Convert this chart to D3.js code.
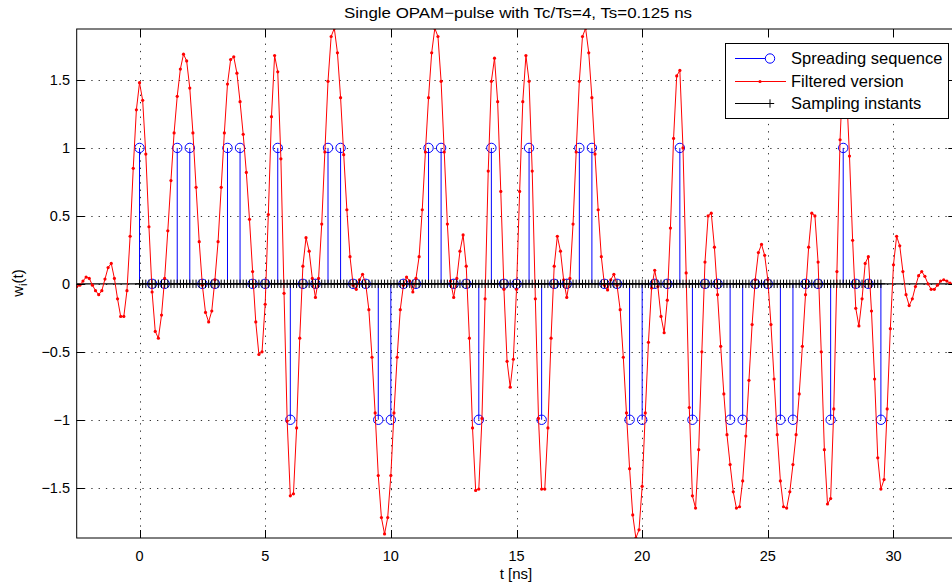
<!DOCTYPE html>
<html>
<head>
<meta charset="utf-8">
<script src="https://cdn.jsdelivr.net/npm/d3@7"></script>
<style>
  body { margin: 0; background: #fff; }
  text { font-family: "Liberation Sans", Arial, sans-serif; fill: #000; }
</style>
</head>
<body>
<script>
// chip / sample spacing (ns)
const Ts = 0.125;
const Tc = 0.5;

// spreading sequence, one value per chip starting at t = 0
const chips = [
  1, 0, 0, 1, 1, 0, 0, 1, 1, 0, 0, 1, -1, 0, 0, 1, 1, 0, 0, -1,
  -1, 0, 0, 1, 1, 0, 0, -1, 1, 0, 0, 1, -1, 0, 0, 1, 1, 0, 0, -1,
  -1, 0, 0, 1, -1, 0, 0, -1, -1, 0, 0, -1, -1, 0, 0, -1, 1, 0, 0, -1
];

// filtered version, one value per Ts starting at t = -2.5
const filtered = [
  -0.02, -0.01, 0.02, 0.05, 0.04, -0.01, -0.05, -0.08,
  -0.05, 0.035, 0.12, 0.15, 0.04, -0.11, -0.24, -0.24,
  -0.05, 0.35, 0.85, 1.28, 1.48, 1.35, 0.955, 0.42,
  -0.06, -0.35, -0.40, -0.23, 0.04, 0.39, 0.76, 1.11,
  1.38, 1.58, 1.69, 1.64, 1.44, 1.11, 0.71, 0.31,
  -0.01, -0.21, -0.28, -0.20, 0.03, 0.31, 0.71, 1.11,
  1.47, 1.65, 1.67, 1.55, 1.34, 1.10, 0.82, 0.475,
  0.09, -0.28, -0.52, -0.50, -0.15, 0.51, 1.23, 1.68,
  1.56, 0.92, -0.07, -1.01, -1.56, -1.545, -1.06, -0.40,
  0.13, 0.34, 0.24, 0.04, -0.10, 0.04, 0.44, 0.97,
  1.49, 1.82, 1.88, 1.70, 1.37, 0.95, 0.545, 0.20,
  -0.01, -0.04, 0.03, 0.07, 0.0, -0.19, -0.54, -0.95,
  -1.41, -1.72, -1.84, -1.72, -1.41, -0.95, -0.54, -0.19,
  -0.01, 0.05, 0.02, -0.06, 0.04, 0.20, 0.545, 0.97,
  1.37, 1.70, 1.88, 1.82, 1.49, 0.97, 0.44, 0.02,
  -0.10, 0.04, 0.24, 0.36, 0.13, -0.40, -1.06, -1.52,
  -1.51, -0.99, -0.11, 0.83, 1.49, 1.66, 1.34, 0.68,
  -0.04, -0.57, -0.76, -0.555, -0.04, 0.68, 1.34, 1.68,
  1.49, 0.83, -0.11, -0.99, -1.51, -1.51, -1.06, -0.40,
  0.13, 0.35, 0.24, 0.03, -0.10, 0.04, 0.44, 0.97,
  1.49, 1.82, 1.88, 1.70, 1.37, 0.955, 0.545, 0.20,
  -0.01, -0.045, 0.03, 0.07, -0.01, -0.19, -0.54, -0.95,
  -1.36, -1.70, -1.87, -1.81, -1.49, -0.95, -0.43, -0.03,
  0.10, -0.02, -0.24, -0.36, -0.12, 0.41, 1.07, 1.53,
  1.57, 1.0, 0.08, -0.91, -1.56, -1.65, -1.22, -0.50,
  0.16, 0.50, 0.52, 0.27, -0.08, -0.46, -0.81, -1.11,
  -1.33, -1.53, -1.65, -1.64, -1.45, -1.12, -0.71, -0.30,
  0.03, 0.23, 0.29, 0.21, 0.03, -0.30, -0.70, -1.11,
  -1.45, -1.64, -1.65, -1.53, -1.33, -1.11, -0.81, -0.46,
  -0.08, 0.27, 0.52, 0.50, 0.16, -0.50, -1.22, -1.62,
  -1.58, -0.92, 0.09, 1.06, 1.6, 1.45, 0.94, 0.32,
  -0.18, -0.31, -0.11, 0.15, 0.20, -0.2, -0.70, -1.28,
  -1.51, -1.44, -0.92, -0.33, 0.14, 0.35, 0.28, 0.09,
  -0.08, -0.16, -0.11, -0.02, 0.06, 0.09, 0.055, 0.0,
  -0.04, -0.04, -0.01, 0.02, 0.03, 0.02, 0.005
];
const filteredStart = -2.5;

// sampling instants sit on the zero line from 0 to 29.5 ns
const samplingLevel = 0;
const samplingEnd = 29.5;

const xTicks = [0, 5, 10, 15, 20, 25, 30];
const yTicks = [-1.5, -1, -0.5, 0, 0.5, 1, 1.5];
const legendLabels = ["Spreading sequence", "Filtered version", "Sampling instants"];

const chipData = chips.map((v, i) => ({ t: i * Tc, v: v }));
const filtData = filtered.map((v, i) => ({ t: filteredStart + i * Ts, v: v }));
const sampData = d3.range(0, samplingEnd + Ts / 2, Ts).map((t) => ({ t: t, v: samplingLevel }));

const W = 952, H = 587;
const pLeft = 76.7, pRight = 956.3, pTop = 29, pBottom = 538;

const svg = d3
  .select("body")
  .append("svg")
  .attr("width", W)
  .attr("height", H);

const x = d3.scaleLinear().domain([-2.5, 32.5]).range([pLeft, pRight]);
const y = d3.scaleLinear().domain([-1.87, 1.875]).range([pBottom, pTop]);

svg.append("defs").append("clipPath").attr("id", "plot")
  .append("rect")
  .attr("x", pLeft).attr("y", pTop)
  .attr("width", pRight - pLeft).attr("height", pBottom - pTop);

// dotted grid
const grid = svg.append("g").attr("stroke", "#333").attr("stroke-width", 1)
  .attr("stroke-dasharray", "1.3,6");
grid.selectAll("line.gx").data(xTicks).enter().append("line")
  .attr("class", "gx")
  .attr("x1", (d) => Math.round(x(d)) + 0.5).attr("x2", (d) => Math.round(x(d)) + 0.5)
  .attr("y1", pTop).attr("y2", pBottom);
grid.selectAll("line.gy").data(yTicks).enter().append("line")
  .attr("class", "gy")
  .attr("y1", (d) => Math.round(y(d)) + 0.5).attr("y2", (d) => Math.round(y(d)) + 0.5)
  .attr("x1", pLeft).attr("x2", pRight);

const plot = svg.append("g").attr("clip-path", "url(#plot)");

// stem baseline
plot.append("line")
  .attr("x1", pLeft).attr("x2", pRight)
  .attr("y1", y(0)).attr("y2", y(0))
  .attr("stroke", "#000").attr("stroke-width", 1.2);

// spreading sequence (blue stems)
plot.selectAll("line.chip").data(chipData).enter().append("line")
  .attr("class", "chip")
  .attr("x1", (d) => x(d.t)).attr("x2", (d) => x(d.t))
  .attr("y1", y(0)).attr("y2", (d) => y(d.v))
  .attr("stroke", "#0000ff").attr("stroke-width", 1);
plot.selectAll("circle.chip").data(chipData).enter().append("circle")
  .attr("class", "chip")
  .attr("cx", (d) => x(d.t)).attr("cy", (d) => y(d.v))
  .attr("r", 4.7)
  .attr("fill", "none").attr("stroke", "#0000ff").attr("stroke-width", 1);

// filtered version (red line with dots)
plot.append("path")
  .datum(filtData)
  .attr("d", d3.line().x((d) => x(d.t)).y((d) => y(d.v)))
  .attr("fill", "none").attr("stroke", "#ff0000").attr("stroke-width", 1);
plot.selectAll("circle.filt").data(filtData).enter().append("circle")
  .attr("class", "filt")
  .attr("cx", (d) => x(d.t)).attr("cy", (d) => y(d.v))
  .attr("r", 1.6).attr("fill", "#ff0000");

// sampling instants (black + markers)
const plus = (g, cx, cy, s) => {
  g.append("path")
    .attr("d", `M${cx - s},${cy}H${cx + s}M${cx},${cy - s}V${cy + s}`)
    .attr("stroke", "#000").attr("stroke-width", 1).attr("fill", "none");
};
sampData.forEach((d) => plus(plot, x(d.t), y(d.v), 4.2));

// axes box and inward ticks
svg.append("rect")
  .attr("x", pLeft).attr("y", pTop)
  .attr("width", pRight - pLeft).attr("height", pBottom - pTop)
  .attr("fill", "none").attr("stroke", "#000").attr("stroke-width", 1);

const tickLen = 8;
const ticks = svg.append("g").attr("stroke", "#000").attr("stroke-width", 1);
xTicks.forEach((t) => {
  const px = Math.round(x(t)) + 0.5;
  ticks.append("line").attr("x1", px).attr("x2", px).attr("y1", pBottom).attr("y2", pBottom - tickLen);
  ticks.append("line").attr("x1", px).attr("x2", px).attr("y1", pTop).attr("y2", pTop + tickLen);
});
yTicks.forEach((t) => {
  const py = Math.round(y(t)) + 0.5;
  ticks.append("line").attr("y1", py).attr("y2", py).attr("x1", pLeft).attr("x2", pLeft + tickLen);
  ticks.append("line").attr("y1", py).attr("y2", py).attr("x1", pRight).attr("x2", pRight - tickLen);
});

const fmt = (d) => (d < 0 ? "\u2212" + Math.abs(d) : String(d));

svg.selectAll("text.xt").data(xTicks).enter().append("text")
  .attr("class", "xt")
  .attr("x", (d) => x(d)).attr("y", 561)
  .attr("text-anchor", "middle").attr("font-size", 14.5)
  .text(fmt);
svg.selectAll("text.yt").data(yTicks).enter().append("text")
  .attr("class", "yt")
  .attr("x", 70).attr("y", (d) => y(d) + 5)
  .attr("text-anchor", "end").attr("font-size", 14.5)
  .text(fmt);

// title and axis labels
svg.append("text")
  .attr("x", 518).attr("y", 18)
  .attr("text-anchor", "middle").attr("font-size", 15)
  .attr("textLength", 348).attr("lengthAdjust", "spacingAndGlyphs")
  .text("Single OPAM\u2212pulse with Tc/Ts=4, Ts=0.125 ns");

svg.append("text")
  .attr("x", 516).attr("y", 579)
  .attr("text-anchor", "middle").attr("font-size", 15)
  .text("t [ns]");

const yl = svg.append("text")
  .attr("transform", "translate(23,283) rotate(-90)")
  .attr("text-anchor", "middle").attr("font-size", 15);
yl.append("tspan").text("w");
yl.append("tspan").attr("font-size", 11).attr("dy", 4).text("i");
yl.append("tspan").attr("dy", -4).text("(t)");

// legend
const lg = svg.append("g");
lg.append("rect")
  .attr("x", 725.5).attr("y", 43.5).attr("width", 223).attr("height", 75)
  .attr("fill", "#fff").attr("stroke", "#000").attr("stroke-width", 1);
const rowY = [58.5, 81.5, 103.5];

lg.append("line").attr("x1", 735).attr("x2", 770).attr("y1", rowY[0]).attr("y2", rowY[0])
  .attr("stroke", "#0000ff");
lg.append("circle").attr("cx", 770).attr("cy", rowY[0]).attr("r", 4.7)
  .attr("fill", "#fff").attr("stroke", "#0000ff");

lg.append("line").attr("x1", 735).attr("x2", 786).attr("y1", rowY[1]).attr("y2", rowY[1])
  .attr("stroke", "#ff0000");
lg.append("circle").attr("cx", 760).attr("cy", rowY[1]).attr("r", 1.6).attr("fill", "#ff0000");

lg.append("line").attr("x1", 735).attr("x2", 770).attr("y1", rowY[2]).attr("y2", rowY[2])
  .attr("stroke", "#000");
plus(lg, 770, rowY[2], 4.2);

lg.selectAll("text").data(legendLabels).enter().append("text")
  .attr("x", 791).attr("y", (d, i) => rowY[i] + 5.5)
  .attr("font-size", 16.5)
  .text((d) => d);
</script>
</body>
</html>
